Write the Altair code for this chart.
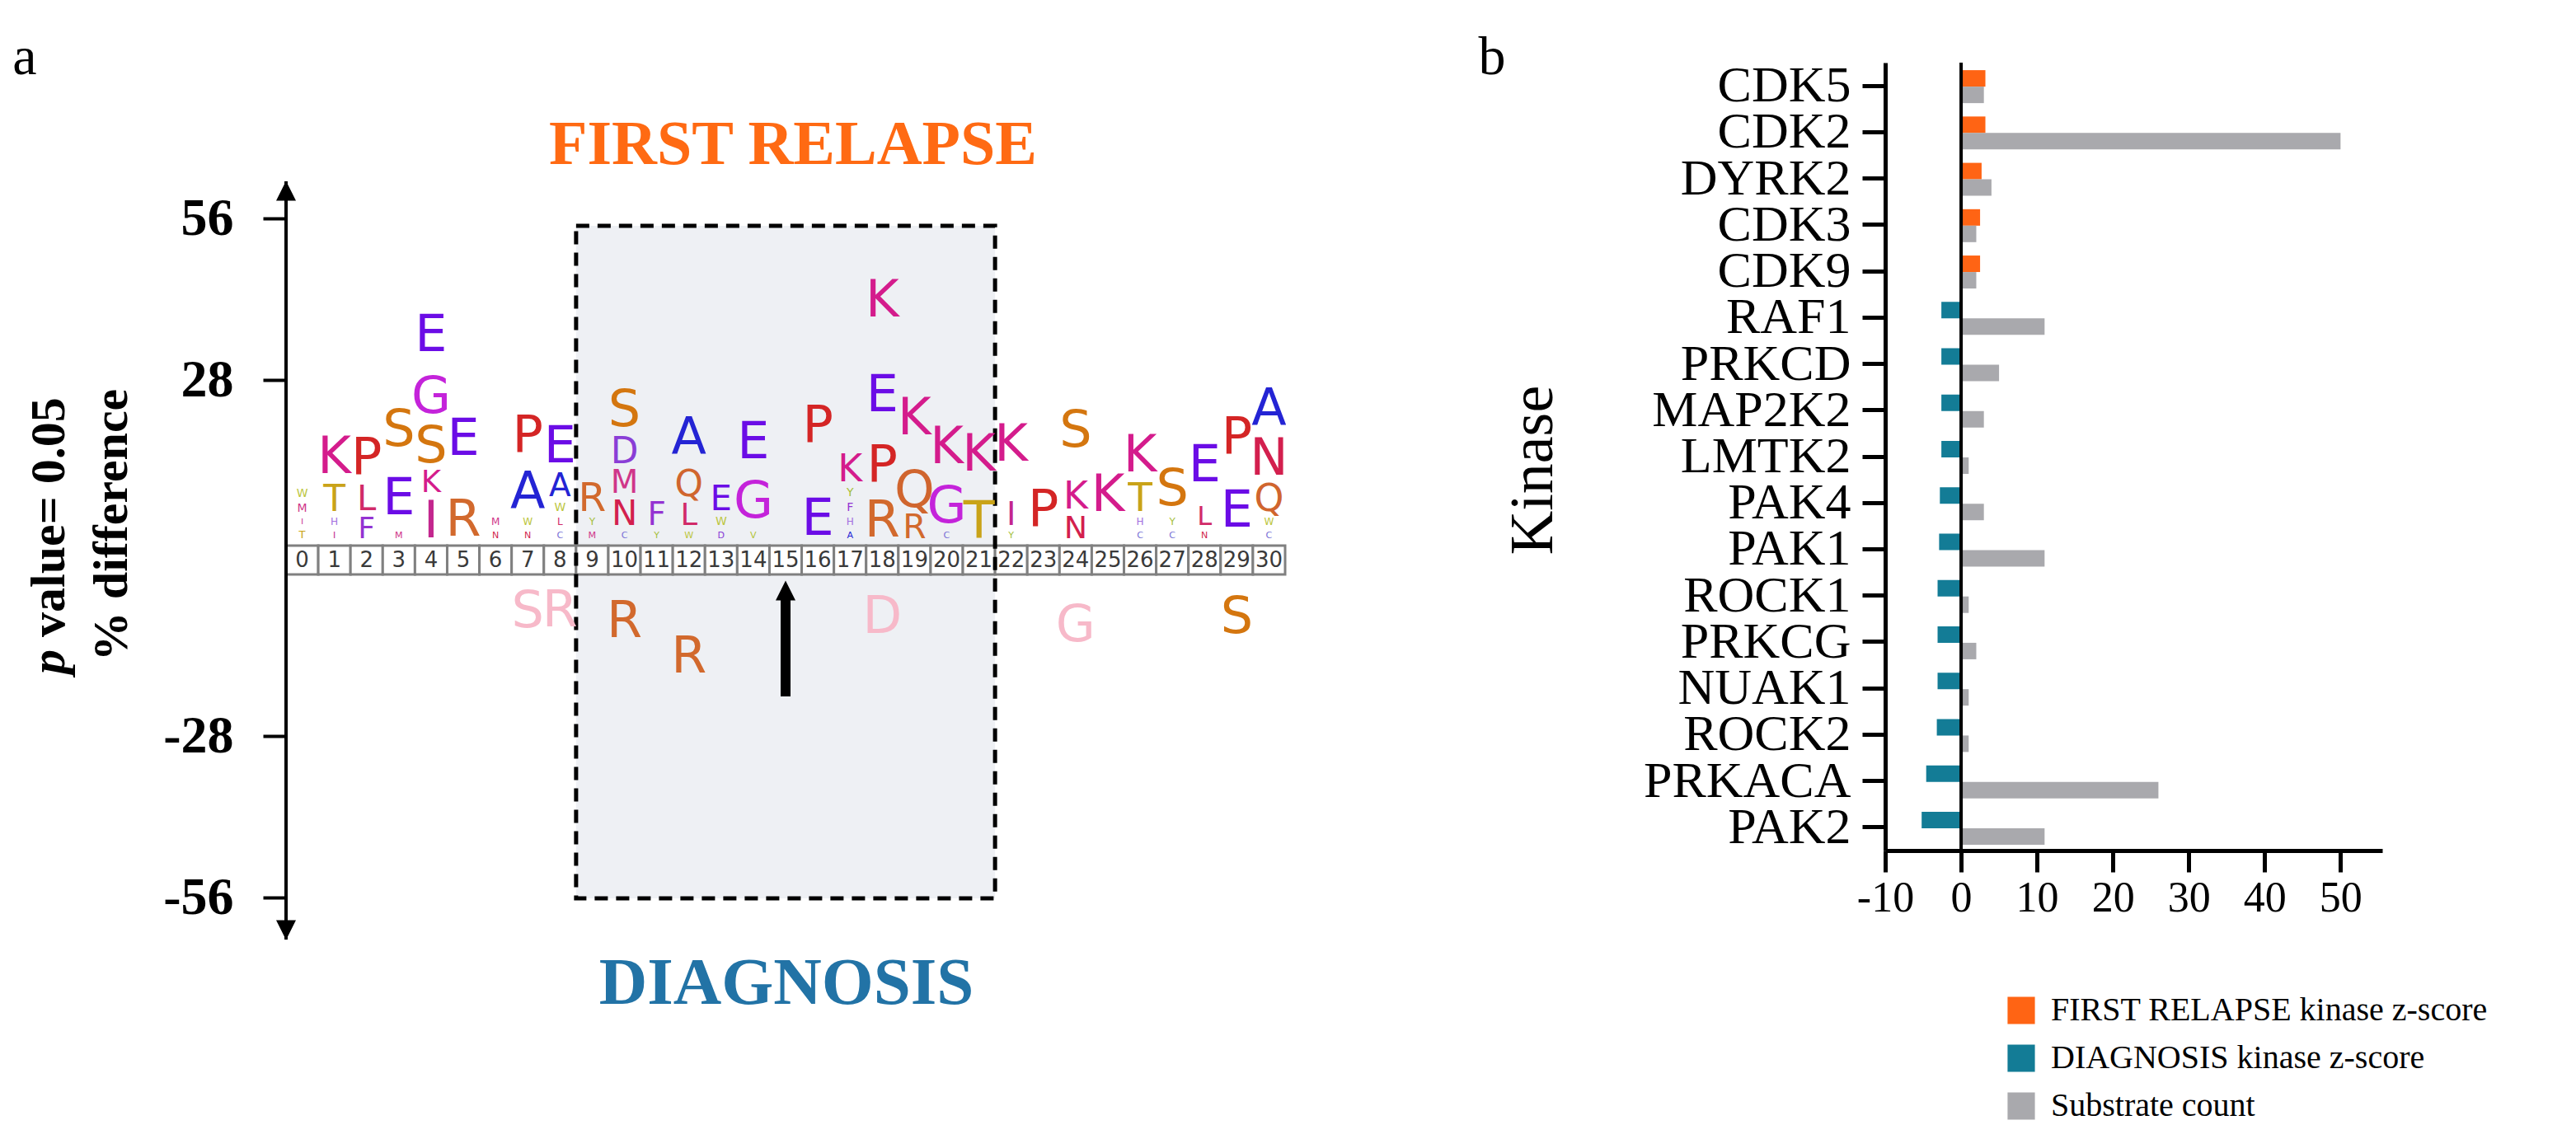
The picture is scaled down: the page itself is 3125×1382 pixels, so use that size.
import altair as alt
import pandas as pd

# ---------------- panel a : sequence logo data ----------------
POSITIONS = list(range(31))
UP_LETTERS = ["TIMW", "IHTK", "FLP", "MES", "IKSGE", "RE", "NM", "NWAP", "CLWAE", "MYR",
              "CNMDS", "YF", "WLQA", "DWE", "VGE", "", "EP", "AHFYK", "RPEK", "RQK",
              "CGK", "TK", "YIK", "P", "NKS", "K", "CHTK", "CYS", "NLE", "EP", "CWQNA"]
UP_VALUES = [
    [2.5, 2.1, 2.6, 2.6],
    [2.3, 2.4, 5.7, 9.3],
    [4.9, 5.5, 9.0],
    [2.3, 11.4, 12.3],
    [8.0, 5.0, 7.8, 9.5, 11.9],
    [8.5, 19.5],
    [2.3, 2.4],
    [2.3, 2.4, 8.5, 11.2],
    [2.3, 2.4, 2.6, 5.2, 8.8],
    [2.3, 2.4, 6.2],
    [2.3, 5.5, 5.2, 5.7, 9.0],
    [2.3, 5.2],
    [2.3, 5.0, 5.7, 10.7],
    [2.3, 2.6, 5.5],
    [2.3, 10.2, 10.4],
    [],
    [8.7, 23.5],
    [2.3, 2.4, 2.6, 2.6, 5.9],
    [8.2, 10.9, 13.3, 19.7],
    [5.4, 7.6, 17.6],
    [2.3, 8.3, 12.3],
    [8.0, 15.0],
    [2.3, 5.2, 19.5],
    [11.8],
    [5.1, 5.9, 17.3],
    [17.0],
    [2.3, 2.4, 6.2, 8.8],
    [2.3, 2.4, 9.7],
    [2.3, 4.5, 13.8],
    [11.5, 14.0],
    [2.3, 2.4, 5.9, 8.3, 8.8],
]
DOWN_POS = [7, 8, 10, 12, 18, 24, 29]
DOWN_LETTERS = ["S", "R", "R", "R", "D", "G", "S"]
DOWN_VALUES = [11.8, 11.5, 15.2, 27.3, 13.7, 16.5, 13.6]
DOWN_FADED = [True, True, False, False, True, True, False]
Y_TICKS = [56, 28, -28, -56]
BOX_FROM, BOX_TO = 9, 21
ARROW_POS = 15

# ---------------- panel b : kinase data ----------------
KINASES = ["CDK5", "CDK2", "DYRK2", "CDK3", "CDK9", "RAF1", "PRKCD", "MAP2K2", "LMTK2",
           "PAK4", "PAK1", "ROCK1", "PRKCG", "NUAK1", "ROCK2", "PRKACA", "PAK2"]
RELAPSE_Z = [3.2, 3.2, 2.7, 2.5, 2.5]
DIAG_Z = [-2.6, -2.6, -2.6, -2.6, -2.8, -2.9, -3.1, -3.1, -3.1, -3.2, -4.6, -5.2]
SUBSTRATES = [3, 50, 4, 2, 2, 11, 5, 3, 1, 3, 11, 1, 2, 1, 1, 26, 11]
SERIES = ["FIRST RELAPSE kinase z-score", "DIAGNOSIS kinase z-score", "Substrate count"]

# ---------------- styles ----------------
SERIF = "Liberation Serif"
LOGO_FONT = "DejaVu Sans"
AA_COLORS = {
    "K": "#D41C8C", "R": "#D2692D", "H": "#A46FE0", "D": "#8A3ED6", "E": "#6B0CE6",
    "S": "#D4760F", "T": "#C9A318", "N": "#D31F4E", "Q": "#D0652E", "C": "#7A72D6",
    "G": "#C423DA", "P": "#D42525", "A": "#2424D4", "V": "#B4C43A", "I": "#C3268E",
    "L": "#D12A68", "M": "#D0368A", "F": "#9433D2", "Y": "#A6BF3C", "W": "#BCC640",
}
FADED = "#F7B9C9"
PX = 7.0            # pixels per % unit
GAP = 40 / PX       # strip gap between positive and negative halves (display units)
CAP = 0.729         # cap height / em of logo font
FMAX = 62
OY = 76             # top of both plot areas (page px)
YTOP = (657 - OY) / PX
YBOT = -(1145 - 657) / PX

# ---- build logo glyph table ----
rows = []
for pos, letters, vals in zip(POSITIONS, UP_LETTERS, UP_VALUES):
    base = 0.0
    for aa, v in zip(letters, vals):
        target = max(v * PX - 8, 4)
        fs = min(target / CAP, FMAX)
        h = fs * CAP
        rows.append(dict(pos=pos, aa=aa, y=base + (4 + (target - h) / 2) / PX,
                         fs=fs, color=AA_COLORS[aa]))
        base += v
for pos, aa, v, faded in zip(DOWN_POS, DOWN_LETTERS, DOWN_VALUES, DOWN_FADED):
    target = max(v * PX - 9, 4)
    fs = min(target / CAP, FMAX)
    h = fs * CAP
    rows.append(dict(pos=pos, aa=aa, y=-GAP - v + (4 + (target - h) / 2) / PX,
                     fs=fs, color=FADED if faded else AA_COLORS[aa]))
logo = pd.DataFrame(rows)

strip = pd.DataFrame({"pos": POSITIONS})
strip["x1"] = strip["pos"] - 0.5
strip["x2"] = strip["pos"] + 0.5
strip["y1"] = -5 / PX
strip["y2"] = -GAP
strip["ym"] = (strip["y1"] + strip["y2"]) / 2
strip["lab"] = strip["pos"].astype(str)

box = pd.DataFrame({"x1": [BOX_FROM - 0.5], "x2": [BOX_TO + 0.5],
                    "y1": [(657 - 274) / PX], "y2": [-(1090 - 657) / PX]})

XS = alt.Scale(domain=[-0.5, 30.5], nice=False, zero=False)
YS = alt.Scale(domain=[YBOT, YTOP], nice=False, zero=False)
label_expr = "datum.value > 0 ? '' + round(datum.value) : '' + round(datum.value + %f)" % GAP
YAX = alt.Axis(values=[t if t > 0 else t - GAP for t in Y_TICKS], labelExpr=label_expr,
               domain=False, grid=False, ticks=True, tickSize=28, tickWidth=4, tickColor="black",
               labelFont=SERIF, labelFontWeight="bold", labelFontSize=64, labelColor="black",
               labelPadding=36, labelFlush=False, title=None)


def X(f):
    return alt.X(f, type="quantitative", scale=XS, axis=None)


def Y(f):
    return alt.Y(f, type="quantitative", scale=YS, axis=YAX)


box_fill = alt.Chart(box).mark_rect(color="#EEF0F4").encode(
    x=X("x1"), x2="x2", y=Y("y1"), y2="y2")
strip_rect = alt.Chart(strip).mark_rect(fill="white", stroke="#808080", strokeWidth=3).encode(
    x=X("x1"), x2="x2", y=Y("y1"), y2="y2")
strip_text = alt.Chart(strip).mark_text(font="DejaVu Sans", fontSize=26, color="#3A3A3A",
                                         baseline="middle").encode(
    x=X("pos"), y=Y("ym"), text="lab:N")
box_line = alt.Chart(box).mark_rect(fillOpacity=0, stroke="black", strokeWidth=5,
                                    strokeDash=[16, 10]).encode(
    x=X("x1"), x2="x2", y=Y("y1"), y2="y2")
letters = alt.Chart(logo).mark_text(font=LOGO_FONT, baseline="alphabetic", align="center").encode(
    x=X("pos"), y=Y("y"), text="aa:N",
    size=alt.Size("fs:Q", scale=None), color=alt.Color("color:N", scale=None))

arrow_df = pd.DataFrame({"pos": [ARROW_POS], "y1": [-(728 - 657) / PX], "y2": [-(845 - 657) / PX],
                         "yh": [-(716.5 - 657) / PX]})
arrow_shaft = alt.Chart(arrow_df).mark_rule(color="black", strokeWidth=12, strokeCap="butt").encode(
    x=X("pos"), y=Y("y1"), y2="y2")
arrow_head = alt.Chart(arrow_df).mark_point(shape="M0,-1L1,1L-1,1Z", size=576, filled=True,
                                            color="black", opacity=1).encode(x=X("pos"), y=Y("yh"))

axis_df = pd.DataFrame({"x": [-0.5], "top": [(657 - 220) / PX], "bot": [-(1140 - 657) / PX],
                        "th": [(657 - 231.5) / PX], "bh": [-(1128.5 - 657) / PX]})
axis_line = alt.Chart(axis_df).mark_rule(color="black", strokeWidth=4).encode(
    x=X("x"), y=Y("top"), y2="bot")
axis_up = alt.Chart(axis_df).mark_point(shape="M0,-1L1,1L-1,1Z", size=576, filled=True,
                                        color="black", opacity=1).encode(x=X("x"), y=Y("th"))
axis_dn = alt.Chart(axis_df).mark_point(shape="M0,1L1,-1L-1,-1Z", size=576, filled=True,
                                        color="black", opacity=1).encode(x=X("x"), y=Y("bh"))


def label(text, x, y, **kw):
    return alt.Chart(pd.DataFrame({"t": [text]})).mark_text(**kw).encode(
        text="t:N", x=alt.value(x), y=alt.value(y))


OX_A = 347
txt_a = label("a", 30 - OX_A, 70 - OY, font=SERIF, fontSize=66, color="black")
txt_fr = label("FIRST RELAPSE", 962 - OX_A, 176 - OY, font=SERIF, fontSize=76,
               fontWeight="bold", color="#FF6A13")
txt_dg = label("DIAGNOSIS", 954 - OX_A, 1194 - OY, font=SERIF, fontSize=81,
               fontWeight="bold", color="#2273A6")
txt_p = label("p", 60 - OX_A, 818 - OY, font=SERIF, fontSize=60, fontWeight="bold",
              fontStyle="italic", angle=270, align="left", baseline="middle", color="black")
txt_pv = label("value= 0.05", 60 - OX_A, 773 - OY, font=SERIF, fontSize=60, fontWeight="bold",
               angle=270, align="left", baseline="middle", color="black")
txt_pd = label("% difference", 136 - OX_A, 637 - OY, font=SERIF, fontSize=60, fontWeight="bold",
               angle=270, align="center", baseline="middle", color="black")

panel_a = alt.layer(box_fill, strip_rect, strip_text, box_line, letters, arrow_shaft, arrow_head,
                    axis_line, axis_up, axis_dn, txt_a, txt_fr, txt_dg, txt_p, txt_pv, txt_pd
                    ).properties(width=1212, height=1145 - OY)

# ---------------- panel b ----------------
z_df = pd.DataFrame({
    "kinase": KINASES,
    "z": RELAPSE_Z + DIAG_Z,
    "series": [SERIES[0]] * len(RELAPSE_Z) + [SERIES[1]] * len(DIAG_Z),
})
c_df = pd.DataFrame({"kinase": KINASES, "z": SUBSTRATES, "series": SERIES[2]})

OX_B = 2287
XB = alt.Scale(domain=[-10, 55.5], nice=False, zero=False)
XBA = alt.Axis(values=[-10, 0, 10, 20, 30, 40, 50], labelExpr="'' + datum.value",
               domainColor="black", domainWidth=5, tickColor="black", tickWidth=5, tickSize=26,
               labelFont=SERIF, labelFontSize=52, labelColor="black", labelPadding=6,
               labelOverlap=False, labelFlush=False, grid=False, title=None)
YB = alt.Y("kinase:N", sort=KINASES, scale=alt.Scale(paddingInner=0, paddingOuter=0),
           axis=alt.Axis(domainColor="black", domainWidth=5, tickColor="black", tickWidth=5,
                         tickSize=28, labelFont=SERIF, labelFontSize=62, labelColor="black",
                         labelPadding=14, labelLimit=0, grid=False, title="Kinase",
                         titleFont=SERIF, titleFontSize=74, titleFontWeight="normal",
                         titleColor="black", titleX=1860 - OX_B, titleY=570 - OY,
                         titleAngle=270, titleAlign="center", titleBaseline="middle"))
CS = alt.Scale(domain=SERIES, range=["#FF6414", "#137C96", "#A9A9AD"])
LEG = alt.Legend(orient="none", legendX=2432 - OX_B, legendY=1206 - OY, symbolType="square",
                 symbolSize=1100, symbolStrokeWidth=0, labelFont=SERIF, labelFontSize=40,
                 labelColor="black", labelLimit=0, rowPadding=18, labelOffset=16, title=None,
                 padding=0)

bars_z = alt.Chart(z_df).mark_bar(size=20, yOffset=-9).encode(
    y=YB, x=alt.X("z:Q", scale=XB, axis=XBA), x2=alt.datum(0),
    color=alt.Color("series:N", scale=CS, legend=LEG))
bars_c = alt.Chart(c_df).mark_bar(size=20, yOffset=11).encode(
    y=YB, x=alt.X("z:Q", scale=XB, axis=XBA), x2=alt.datum(0),
    color=alt.Color("series:N", scale=CS, legend=LEG))
zero = alt.Chart(pd.DataFrame({"v": [0]})).mark_rule(color="black", strokeWidth=4).encode(
    x=alt.X("v:Q", scale=XB, axis=XBA))
txt_b = label("b", 1810 - OX_B, 70 - OY, font=SERIF, fontSize=66, color="black")

panel_b = alt.layer(bars_z, bars_c, zero, txt_b).properties(width=603, height=956)

chart = alt.hconcat(panel_a, panel_b, spacing=2287 - (347 + 1212), bounds="flush").resolve_scale(
    color="independent").resolve_legend(color="independent").properties(
    padding={"left": 339, "top": OY - 8, "right": 2770, "bottom": 1300},
    autosize=alt.AutoSizeParams(type="none"),
).configure_view(stroke=None)

chart.save("out.html", embed_options={"renderer": "svg", "actions": False})
